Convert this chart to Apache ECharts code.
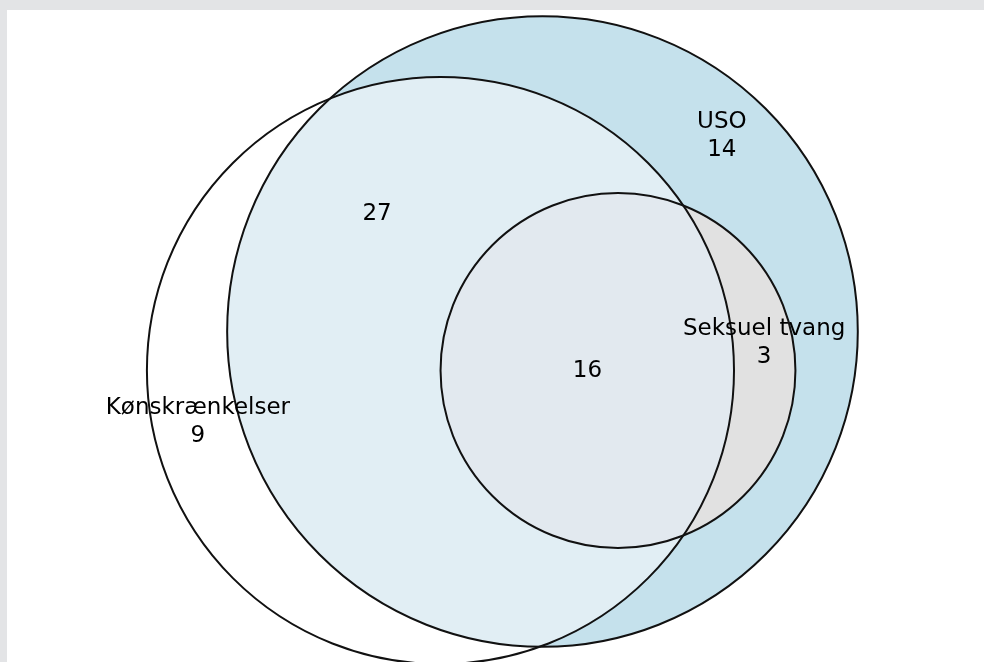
<!DOCTYPE html>
<html>
<head>
<meta charset="utf-8">
<script src="https://cdn.jsdelivr.net/npm/echarts@6/dist/echarts.min.js"></script>
<style>
  html, body { margin: 0; padding: 0; background: #e3e4e6; }
  #venn { position: absolute; left: 7px; top: 10px; width: 977px; height: 652px; background: #fff; }
</style>
</head>
<body>
<div id="venn"></div>
<script>
  'use strict';

  // sets and region counts (A = USO, B = Kønskrænkelser, C = Seksuel tvang)
  var setNames = ['USO', 'Kønskrænkelser', 'Seksuel tvang'];
  var regionSets = ['A', 'B', 'AB', 'AC', 'ABC'];
  var regionNames = ['USO', 'Kønskrænkelser', '', 'Seksuel tvang', ''];
  var regionCounts = [14, 9, 27, 3, 16];

  // layout: circle centres and label anchors (axis units, radius = sqrt(set size))
  var circleCenters = [[13.154, 7.890], [10.648, 8.847], [15.009, 8.847]];
  var labelPos = [[17.56, 3.10], [4.69, 10.10], [9.09, 5.00], [18.60, 8.17], [14.26, 8.86]];

  var colors = {
    A: '#c5e1ec',
    AB: '#e1eef4',
    C: '#e1e1e1',
    BC: '#e2e9ef',
    line: '#111111'
  };

  // set sizes from the regions
  var setSizes = ['A', 'B', 'C'].map(function (s) {
    var total = 0;
    regionSets.forEach(function (r, i) {
      if (r.indexOf(s) >= 0) total += regionCounts[i];
    });
    return total;
  });

  var circles = circleCenters.map(function (c, i) {
    return [c[0], c[1], Math.sqrt(setSizes[i]), i];
  });

  function toPx(api, c) {
    var p = api.coord([c[0], c[1]]);
    var r = api.size([c[2], c[2]])[0];
    return [p[0], p[1], r];
  }

  // lens shaped intersection of two circles (pixel space)
  function lens(c1, c2, n) {
    var dx = c2[0] - c1[0], dy = c2[1] - c1[1];
    var d = Math.sqrt(dx * dx + dy * dy);
    var phi1 = Math.atan2(dy, dx), phi2 = phi1 + Math.PI;
    var a1 = Math.acos((d * d + c1[2] * c1[2] - c2[2] * c2[2]) / (2 * d * c1[2]));
    var a2 = Math.acos((d * d + c2[2] * c2[2] - c1[2] * c1[2]) / (2 * d * c2[2]));
    var pts = [], i, t;
    for (i = 0; i <= n; i++) {
      t = phi1 - a1 + 2 * a1 * i / n;
      pts.push([c1[0] + c1[2] * Math.cos(t), c1[1] + c1[2] * Math.sin(t)]);
    }
    for (i = 0; i <= n; i++) {
      t = phi2 - a2 + 2 * a2 * i / n;
      pts.push([c2[0] + c2[2] * Math.cos(t), c2[1] + c2[2] * Math.sin(t)]);
    }
    return pts;
  }

  var myChart = echarts.init(document.getElementById('venn'));

  var option = {
    animation: false,
    grid: { left: 0, right: 0, top: 0, bottom: 0 },
    xAxis: { type: 'value', min: 0, max: 24, show: false },
    yAxis: { type: 'value', min: 0, max: 16, inverse: true, show: false },
    series: [
      {
        // region fills
        type: 'custom',
        silent: true,
        clip: false,
        data: [[0]],
        renderItem: function (params, api) {
          var A = toPx(api, circles[0]);
          var B = toPx(api, circles[1]);
          var C = toPx(api, circles[2]);
          return {
            type: 'group',
            children: [
              { type: 'circle', shape: { cx: A[0], cy: A[1], r: A[2] }, style: { fill: colors.A } },
              { type: 'polygon', shape: { points: lens(A, B, 240) }, style: { fill: colors.AB } },
              { type: 'circle', shape: { cx: C[0], cy: C[1], r: C[2] }, style: { fill: colors.C } },
              { type: 'polygon', shape: { points: lens(B, C, 240) }, style: { fill: colors.BC } }
            ]
          };
        }
      },
      {
        // circle outlines
        type: 'custom',
        silent: true,
        clip: false,
        data: circles,
        renderItem: function (params, api) {
          var c = toPx(api, [api.value(0), api.value(1), api.value(2)]);
          return {
            type: 'circle',
            shape: { cx: c[0], cy: c[1], r: c[2] },
            style: { fill: 'none', stroke: colors.line, lineWidth: 2 }
          };
        }
      },
      {
        // region labels
        type: 'scatter',
        symbolSize: 0,
        silent: true,
        itemStyle: { opacity: 1 },
        data: labelPos.map(function (p, i) {
          return { name: regionNames[i], value: [p[0], p[1], regionCounts[i]] };
        }),
        label: {
          show: true,
          position: 'inside',
          color: '#000',
          textBorderWidth: 0,
          textBorderColor: 'transparent',
          fontFamily: 'DejaVu Sans',
          fontSize: 23,
          lineHeight: 28,
          align: 'center',
          formatter: function (p) {
            return p.name ? p.name + '\n' + p.value[2] : String(p.value[2]);
          }
        }
      }
    ]
  };

  myChart.setOption(option);
</script>
</body>
</html>
